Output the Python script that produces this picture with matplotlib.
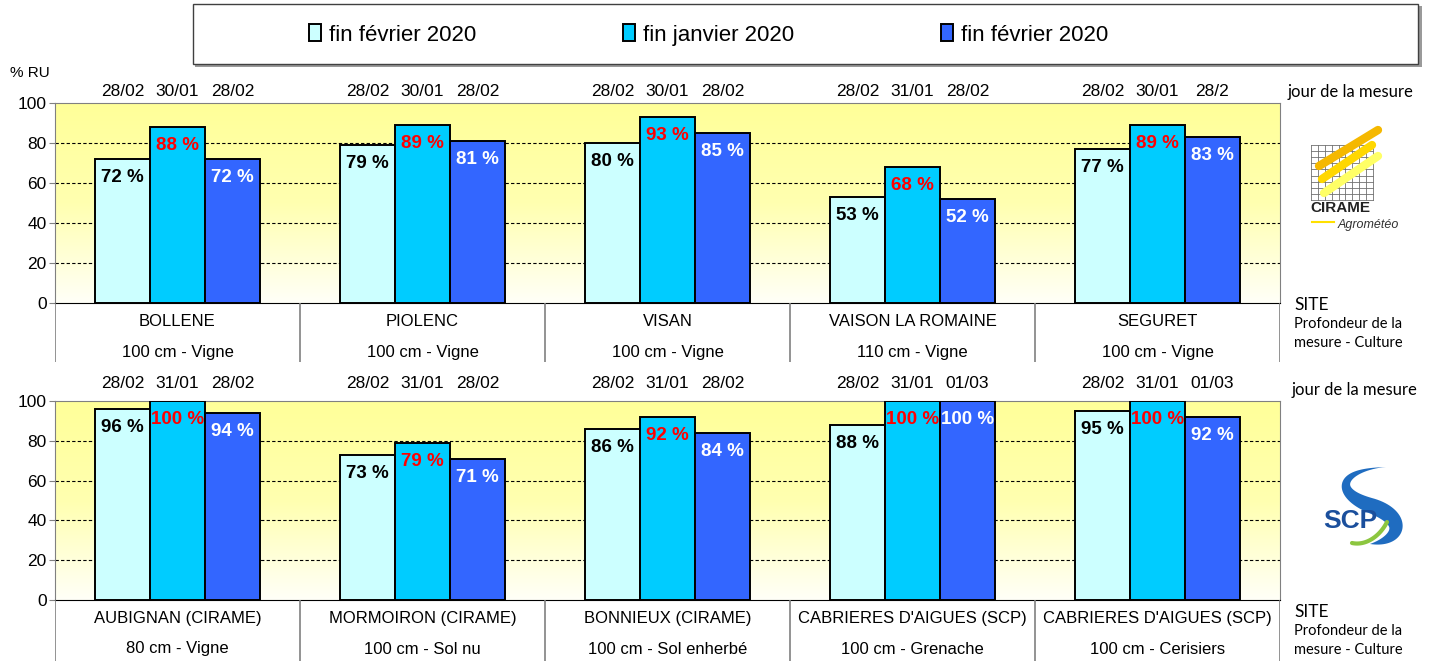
import numpy as np
import matplotlib
matplotlib.use('Agg')
import matplotlib.pyplot as plt
from matplotlib.colors import LinearSegmentedColormap
from matplotlib.patches import Rectangle, Polygon

plt.rcParams['font.family'] = ['Liberation Sans', 'DejaVu Sans']

# series (legend)
series = ['fin février 2020', 'fin janvier 2020', 'fin février 2020']
colors = ['#CCFFFF', '#00CCFF', '#3366FF']
label_colors = ['black', '#FF0000', 'white']

# top panel (CIRAME)
sites_top = ['BOLLENE', 'PIOLENC', 'VISAN', 'VAISON LA ROMAINE', 'SEGURET']
depth_top = ['100 cm - Vigne', '100 cm - Vigne', '100 cm - Vigne',
             '110 cm - Vigne', '100 cm - Vigne']
val_top = [[72, 79, 80, 53, 77],
           [88, 89, 93, 68, 89],
           [72, 81, 85, 52, 83]]
date_top = [['28/02', '28/02', '28/02', '28/02', '28/02'],
            ['30/01', '30/01', '30/01', '31/01', '30/01'],
            ['28/02', '28/02', '28/02', '28/02', '28/2']]

# bottom panel (SCP)
sites_bot = ['AUBIGNAN (CIRAME)', 'MORMOIRON (CIRAME)', 'BONNIEUX (CIRAME)',
             "CABRIERES D'AIGUES (SCP)", "CABRIERES D'AIGUES (SCP)"]
depth_bot = ['80 cm - Vigne', '100 cm - Sol nu', '100 cm - Sol enherbé',
             '100 cm - Grenache', '100 cm - Cerisiers']
val_bot = [[96, 73, 86, 88, 95],
           [100, 79, 92, 100, 100],
           [94, 71, 84, 100, 92]]
date_bot = [['28/02', '28/02', '28/02', '28/02', '28/02'],
            ['31/01', '31/01', '31/01', '31/01', '31/01'],
            ['28/02', '28/02', '28/02', '01/03', '01/03']]

W, H = 1430, 661
fig = plt.figure(figsize=(W / 100, H / 100), dpi=100)


def fr(x0, y0, x1, y1):
    # pixel box -> figure fraction
    return [x0 / W, 1 - y1 / H, (x1 - x0) / W, (y1 - y0) / H]


# overlay in pixel coords for frame, logos, side notes
ov = fig.add_axes([0, 0, 1, 1])
ov.set_xlim(0, W)
ov.set_ylim(H, 0)
ov.axis('off')

bg = LinearSegmentedColormap.from_list('bg', ['#FFFFF8', '#FFFFB0', '#FFFF99'])


def panel(box_ax, box_tab, vals, dates, sites, depths, date_dy):
    ax = fig.add_axes(fr(*box_ax))
    ax.imshow(np.linspace(0, 1, 256).reshape(-1, 1), extent=[0, 5, 0, 100],
              origin='lower', aspect='auto', cmap=bg, zorder=0)
    for y in (20, 40, 60, 80):
        ax.axhline(y, color='black', lw=0.8, ls=(0, (3, 2)), zorder=1)
    x = np.arange(5) + 0.5
    w = 0.224
    for k in range(3):
        xs = x + (k - 1) * w
        ax.bar(xs, vals[k], w, color=colors[k], edgecolor='black', lw=1.4,
               zorder=3, label=series[k])
        for xi, v, d in zip(xs, vals[k], dates[k]):
            ax.text(xi, v - 9.5, f'{v} %', ha='center', va='center', fontsize=13.5,
                    fontweight='bold', color=label_colors[k], zorder=4)
            ax.text(xi, 100 + date_dy, d, ha='center', va='center', fontsize=12.5)
    ax.set_xlim(0, 5)
    ax.set_ylim(0, 100)
    ax.set_xticks([])
    ax.set_yticks(range(0, 101, 20))
    ax.tick_params(axis='y', labelsize=12.5, length=4, color='#808080', pad=2)
    for s in ('top', 'right', 'left'):
        ax.spines[s].set_color('#808080')
    ax.spines['bottom'].set_color('black')

    h = box_tab[3] - box_tab[1]
    tx = fig.add_axes(fr(*box_tab))
    tx.set_xlim(0, 5)
    tx.set_ylim(h, 0)
    tx.axis('off')
    tx.vlines(range(6), 0, h, color='#808080', lw=1.2)
    for i in range(5):
        tx.text(i + 0.5, 19, sites[i], ha='center', va='center', fontsize=12)
        tx.text(i + 0.5, 49, depths[i], ha='center', va='center', fontsize=12)
    return ax


ax1 = panel((55, 103, 1280, 303), (55, 303, 1280, 362), val_top, date_top,
            sites_top, depth_top, 6)
ax2 = panel((55, 401, 1280, 600), (55, 600, 1280, 661), val_bot, date_bot,
            sites_bot, depth_bot, 9)

# legend box
ov.add_patch(Rectangle((195, 6), 1227, 61, fc='#9a9a9a', ec='none'))
ov.add_patch(Rectangle((193, 4), 1225, 60, fc='white', ec='#404040', lw=1))
handles, _ = ax1.get_legend_handles_labels()
fig.legend(handles, series, loc='center left', bbox_to_anchor=(289 / W, 1 - 35 / H),
           ncol=3, frameon=False, fontsize=16, handlelength=0.55, handleheight=0.8,
           handletextpad=0.35, columnspacing=6.6)

ov.text(10, 73, '% RU', fontsize=11, va='center')

# side notes
side = dict(family=['Lato', 'DejaVu Sans'], va='center', ha='left')
ov.text(1288, 92, 'jour de la mesure', fontsize=12, **side)
ov.text(1292, 390, 'jour de la mesure', fontsize=12, **side)
for y0 in (305, 612):
    ov.text(1294, y0, 'SITE', fontsize=12.5, **side)
    ov.text(1294, y0 + 19, 'Profondeur de la', fontsize=10.5, **side)
    ov.text(1294, y0 + 38, 'mesure - Culture', fontsize=10.5, **side)

# CIRAME logo
for gx in np.linspace(1311, 1373, 10):
    ov.plot([gx, gx], [145, 200], color='#707070', lw=0.6)
for gy in np.linspace(145, 200, 10):
    ov.plot([1311, 1373], [gy, gy], color='#707070', lw=0.6)
ov.plot([1319, 1378], [166, 130], color='#F5B800', lw=6, solid_capstyle='round')
ov.plot([1322, 1372], [179, 145], color='#FFD700', lw=6, solid_capstyle='round')
ov.plot([1324, 1378], [193, 156], color='#FFFF66', lw=6, solid_capstyle='round')
ov.text(1310, 208, 'CIRAME', fontsize=11, fontweight='bold', va='center', color='#222222')
ov.plot([1312, 1334], [222, 222], color='#FFE000', lw=1.5)
ov.text(1338, 225, 'Agrométéo', fontsize=9, style='italic', va='center', color='#333333')


# SCP logo
def bez(p, n=40):
    p = np.array(p, float)
    t = np.linspace(0, 1, n)[:, None]
    return ((1 - t) ** 3) * p[0] + 3 * ((1 - t) ** 2) * t * p[1] \
        + 3 * (1 - t) * t ** 2 * p[2] + t ** 3 * p[3]


c = np.vstack([bez([(1386, 467), (1338, 470), (1333, 493), (1372, 506)]),
               bez([(1372, 506), (1408, 519), (1400, 541), (1370, 544)])[1:]])
seg = np.r_[0, np.cumsum(np.hypot(*np.diff(c, axis=0).T))]
s = seg / seg[-1]
wid = 16 * np.sin(np.pi * s ** 1.5)
d = np.gradient(c, axis=0)
nrm = np.c_[-d[:, 1], d[:, 0]] / np.hypot(d[:, 0], d[:, 1])[:, None]
poly = np.vstack([c + nrm * wid[:, None] / 2, (c - nrm * wid[:, None] / 2)[::-1]])
ov.add_patch(Polygon(poly, closed=True, fc='#1F6CC0', ec='none'))
g = bez([(1352, 543), (1366, 546), (1380, 536), (1387, 522)])
ov.plot(g[:, 0], g[:, 1], color='#8CC63F', lw=3, solid_capstyle='round')
ov.text(1350, 521, 'SCP', fontsize=19, fontweight='bold', color='#1B4F9C',
        ha='center', va='center')

fig.savefig('out.png', dpi=100)
